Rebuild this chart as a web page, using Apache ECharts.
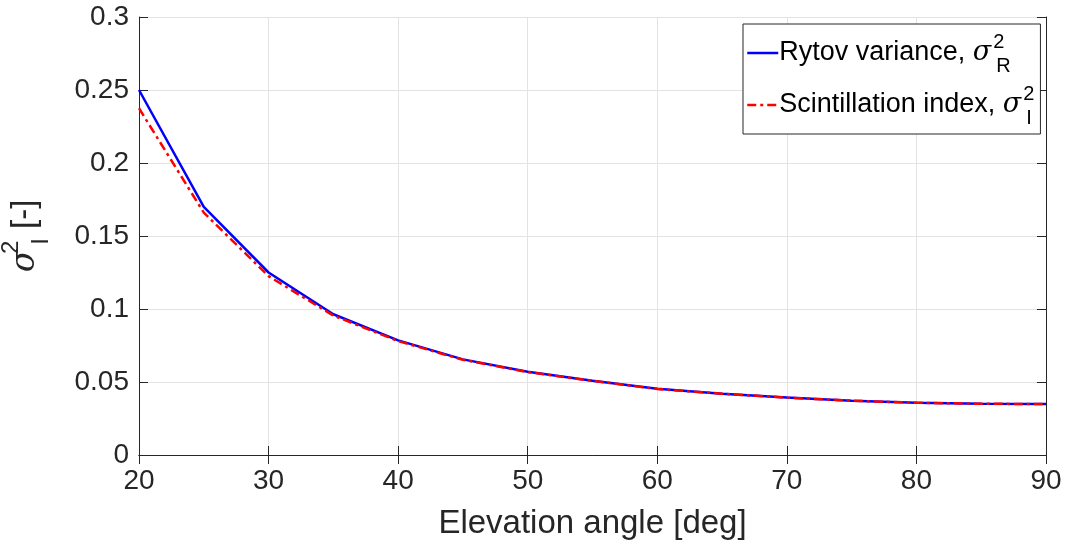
<!DOCTYPE html>
<html>
<head>
<meta charset="utf-8">
<script src="https://cdn.jsdelivr.net/npm/echarts@6/dist/echarts.min.js"></script>
<style>html,body{margin:0;padding:0;background:#fff;}#c{width:1067px;height:547px;}</style>
</head>
<body>
<div id="c"></div>
<script>
const elevation = [20, 25, 30, 35, 40, 45, 50, 55, 60, 65, 70, 75, 80, 85, 90];
const rytovVariance = [0.250, 0.170, 0.125, 0.0964, 0.0785, 0.0655, 0.0570, 0.0509, 0.0453, 0.0420, 0.0393, 0.0372, 0.0358, 0.0351, 0.0349];
const scintIndex = [0.2375, 0.166, 0.1225, 0.0955, 0.0780, 0.0652, 0.0568, 0.0508, 0.0452, 0.0420, 0.0393, 0.0372, 0.0358, 0.0351, 0.0349];
const xTicks = [20, 30, 40, 50, 60, 70, 80, 90];
const yTicks = [0, 0.05, 0.1, 0.15, 0.2, 0.25, 0.3];

const FONT = 'Liberation Sans, Arial, sans-serif';
const SERIF = 'DejaVu Serif, serif';
const AX = '#262626';
const chart = echarts.init(document.getElementById('c'));
const richLeg = {
  t: {fontSize: 27, fontFamily: FONT, color: '#000', lineHeight: 46},
  s: {fontSize: 27, fontFamily: SERIF, fontStyle: 'italic', color: '#000', lineHeight: 46},
  sup: {fontSize: 20, fontFamily: FONT, color: '#000', verticalAlign: 'top', lineHeight: 46, width: 1, padding: [2, 0, 0, 2]},
  sub: {fontSize: 20, fontFamily: FONT, color: '#000', verticalAlign: 'bottom', lineHeight: 46, padding: [0, 0, 0, 2]}
};
const sym = {
  'Rytov variance': 'R',
  'Scintillation index': 'I'
};
chart.setOption({
  animation: false,
  backgroundColor: '#fff',
  grid: {left: 139, top: 17, right: 21, bottom: 92, containLabel: false, outerBoundsMode: 'none'},
  legend: {
    orient: 'vertical',
    left: 743, top: 24,
    padding: [6, 6, 6, 3],
    itemWidth: 31, itemHeight: 14, itemGap: 6,
    backgroundColor: '#fff',
    borderColor: AX, borderWidth: 1, borderRadius: 0,
    itemStyle: {opacity: 0},
    lineStyle: {width: 2.5},
    textStyle: {rich: richLeg, padding: [0, 0, 0, -4]},
    formatter: function (name) {
      return '{t|' + name + ', }{s|σ}{sup|2}{sub|' + sym[name] + '}';
    },
    data: ['Rytov variance', 'Scintillation index']
  },
  xAxis: [{
    type: 'value', min: 20, max: 90, interval: 10,
    name: 'Elevation angle [deg]', nameLocation: 'middle', nameGap: 52,
    nameTextStyle: {fontSize: 33, fontFamily: FONT, color: AX},
    axisLine: {lineStyle: {color: AX, width: 1}},
    axisTick: {inside: true, length: 9, lineStyle: {color: AX}},
    axisLabel: {fontSize: 28, fontFamily: FONT, color: AX, margin: 12,
      formatter: v => xTicks.includes(v) ? String(v) : ''},
    splitLine: {show: true, lineStyle: {color: '#e3e3e3', width: 1}}
  }, {
    type: 'value', min: 20, max: 90, interval: 10, position: 'top',
    axisLine: {show: true, lineStyle: {color: AX, width: 1}},
    axisTick: {show: true, inside: true, length: 9, lineStyle: {color: AX}},
    axisLabel: {show: false}, splitLine: {show: false}
  }],
  yAxis: [{
    type: 'value', min: 0, max: 0.3, interval: 0.05,
    name: '{s|σ}{sup|2}{sub|I}{t| [-]}', nameLocation: 'middle', nameGap: 86, nameRotate: 90,
    nameTextStyle: {
      rich: {
        t: {fontSize: 33, fontFamily: FONT, color: AX, lineHeight: 56},
        s: {fontSize: 33, fontFamily: SERIF, fontStyle: 'italic', color: AX, lineHeight: 56},
        sup: {fontSize: 24, fontFamily: FONT, color: AX, verticalAlign: 'top', lineHeight: 56, width: 1, padding: [2, 0, 0, 2]},
        sub: {fontSize: 24, fontFamily: FONT, color: AX, verticalAlign: 'bottom', lineHeight: 56, padding: [0, 0, 0, 2]}
      }
    },
    axisLine: {show: true, lineStyle: {color: AX, width: 1}},
    axisTick: {show: true, inside: true, length: 9, lineStyle: {color: AX}},
    axisLabel: {fontSize: 28, fontFamily: FONT, color: AX, margin: 10,
      formatter: v => { const t = yTicks.find(y => Math.abs(y - v) < 1e-9); return t === undefined ? '' : String(t); }},
    splitLine: {show: true, lineStyle: {color: '#e3e3e3', width: 1}}
  }, {
    type: 'value', min: 0, max: 0.3, interval: 0.05, position: 'right',
    axisLine: {show: true, lineStyle: {color: AX, width: 1}},
    axisTick: {show: true, inside: true, length: 9, lineStyle: {color: AX}},
    axisLabel: {show: false}, splitLine: {show: false}
  }],
  series: [{
    name: 'Rytov variance', type: 'line', symbol: 'none', smooth: false,
    data: elevation.map((x, i) => [x, rytovVariance[i]]),
    lineStyle: {color: '#0000ff', width: 2.5}, itemStyle: {color: '#0000ff'}
  }, {
    name: 'Scintillation index', type: 'line', symbol: 'none', smooth: false,
    data: elevation.map((x, i) => [x, scintIndex[i]]),
    lineStyle: {color: '#ff0000', width: 2.5, type: [9, 4, 3, 4]}, itemStyle: {color: '#ff0000'}
  }]
});
</script>
</body>
</html>
